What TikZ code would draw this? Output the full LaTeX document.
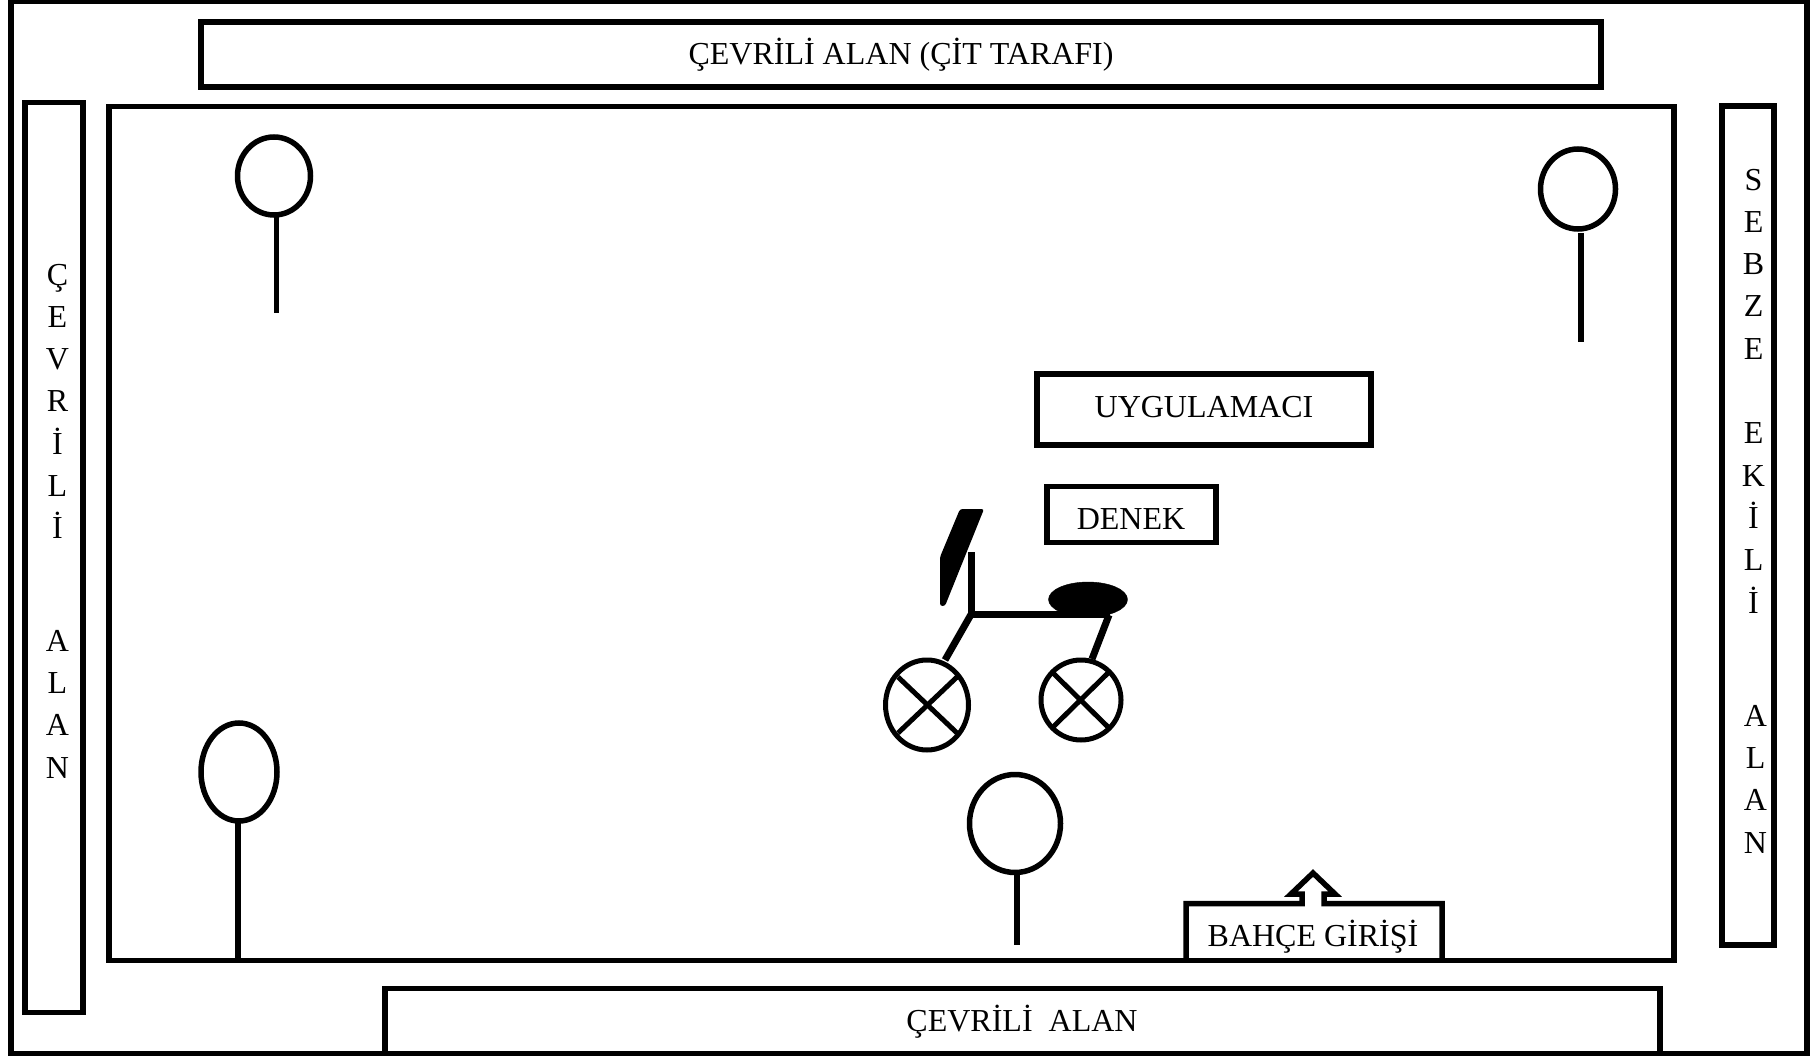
\documentclass[tikz,border=0pt]{standalone}
\usepackage{fontspec}
\setmainfont{Liberation Serif}
\usetikzlibrary{shapes.geometric}
\tikzset{
  x=1pt,y=-1pt,
  frame/.style={draw=black,line width=5.5pt,fill=none,inner sep=0,outer sep=0,rectangle},
  lab/.style={inner sep=0,outer sep=0,font=\fontsize{32}{42.3}\selectfont,align=center,text=black},
  crown/.style={draw=black,line width=5.5pt,ellipse,inner sep=0,outer sep=0},
  wheel/.style={draw=black,line width=5pt,ellipse,inner sep=0,outer sep=0},
  stem/.style={draw=black,line width=5.5pt},
  bar/.style={draw=black,line width=7pt},
  spoke/.style={draw=black,line width=5pt},
}
\begin{document}
\begin{tikzpicture}
\useasboundingbox (0,0) rectangle (1814,1056);
\node[frame,minimum width=1796pt,minimum height=1052pt] (outer) at (909,527.5) {};
\node[frame,minimum width=1400pt,minimum height=65pt] (top) at (901,54.5) {};
\node[lab] (toplab) at (901,55) {ÇEVRİLİ ALAN (ÇİT TARAFI)};
\node[frame,minimum width=58pt,minimum height=910pt] (left) at (54,557.5) {};
\node[lab] (leftlab) at (57.5,521) {Ç\\E\\V\\R\\İ\\L\\İ\\[70pt]A\\L\\A\\N};
\node[frame,minimum width=1565pt,minimum height=854pt] (main) at (891.5,533.5) {};
\node[frame,minimum width=52pt,minimum height=839pt] (right) at (1748,525.5) {};
\node[lab] (rightlab) at (1753.5,511) {S\\E\\B\\Z\\E\\[42.3pt]E\\K\\İ\\L\\İ\\[71pt]\hspace*{4pt}A\\\hspace*{4pt}L\\\hspace*{4pt}A\\\hspace*{4pt}N};
\node[frame,minimum width=1275pt,minimum height=65pt] (bottom) at (1022.5,1021) {};
\node[lab] (bottomlab) at (1022,1022) {ÇEVRİLİ\ \ ALAN};
\node[frame,minimum width=334pt,minimum height=71pt] (uyg) at (1204,409.5) {};
\node[lab] (uyglab) at (1204,407) {UYGULAMACI};
\node[frame,minimum width=169pt,minimum height=56pt] (denek) at (1131.5,514.5) {};
\node[lab] (deneklab) at (1131,519) {DENEK};
% bahce girisi
\node[lab] (bahcelab) at (1313,937) {BAHÇE GİRİŞİ};
\draw[line width=5.5pt,miter limit=10] (1186,960) -- (1186,903.5) -- (1302,903.5) -- (1302,894) -- (1291,894) -- (1313,873) -- (1335,894) -- (1324,894) -- (1324,903.5) -- (1442,903.5) -- (1442,960);
% trees
\node[crown,minimum width=73pt,minimum height=78pt] (t1) at (274,176) {};
\coordinate (t1e) at (276.5,313);
\draw[stem] (t1e |- t1.south) -- (t1e);
\node[crown,minimum width=75pt,minimum height=80pt] (t2) at (1578,189) {};
\coordinate (t2e) at (1581,342.5);
\coordinate (t2s) at (1581,233);
\draw[stem] (t2s) -- (t2e);
\node[crown,minimum width=76pt,minimum height=98pt] (t3) at (239,772) {};
\coordinate (t3e) at (238,960);
\draw[stem] (t3e |- t3.south) -- (t3e);
\node[crown,minimum width=91pt,minimum height=98pt] (t4) at (1015,823.5) {};
\coordinate (t4e) at (1017,945);
\draw[stem] (t4e |- t4.south) -- (t4e);
% bike
\node[wheel,minimum width=83pt,minimum height=90pt] (w1) at (927,705) {};
\node[wheel,minimum width=80pt,minimum height=80pt] (w2) at (1081,700) {};
\draw[spoke] (898,677) -- (957,733);
\draw[spoke] (957,677) -- (898,733);
\draw[spoke] (1053,673) -- (1108,727);
\draw[spoke] (1108,673) -- (1053,727);
\coordinate (hub) at (971,614.5);
\coordinate (post) at (971,552);
\coordinate (rear) at (1110,614.5);
\draw[bar] (post) -- (hub);
\draw[draw=black,line width=6.5pt] (hub) -- (rear);
\draw[bar] (hub) -- (945,660);
\draw[bar] (1109,615) -- (1092,659);
\node[draw=black,fill=black,ellipse,inner sep=0,minimum width=79pt,minimum height=35pt] (seat) at (1088,599.5) {};
\fill[black,rounded corners=2.5pt] (960,509) -- (984,509) -- (945,606) -- (940,606) -- (940,557) -- cycle;
\end{tikzpicture}
\end{document}
